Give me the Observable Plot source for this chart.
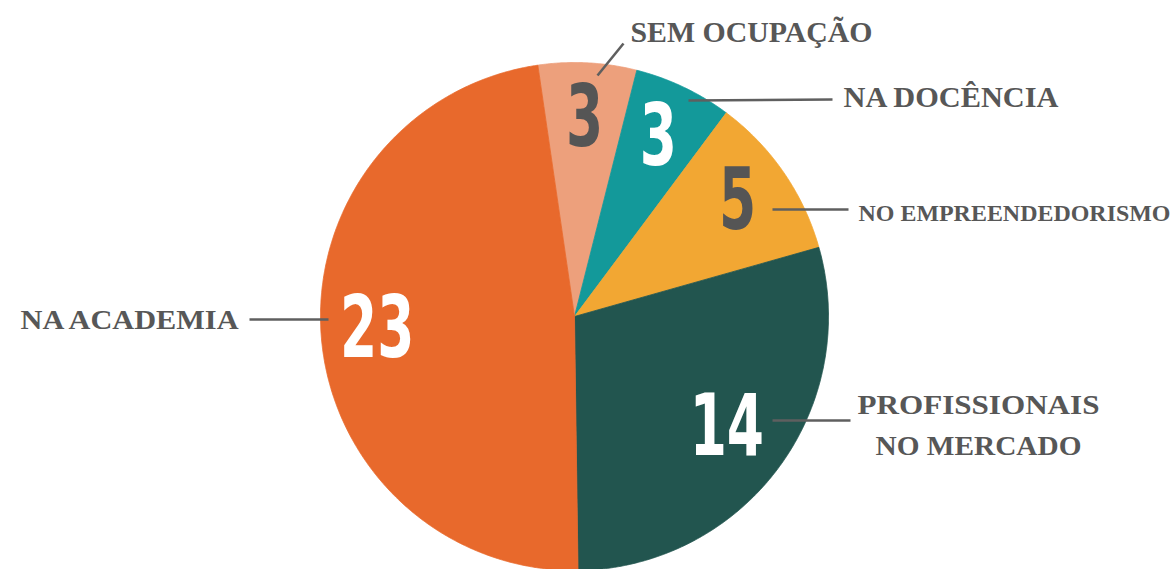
<!DOCTYPE html>
<html><head><meta charset="utf-8">
<script src="https://cdn.jsdelivr.net/npm/d3@7"></script>
<script src="https://cdn.jsdelivr.net/npm/@observablehq/plot@0.6"></script>
<style>
body{margin:0;background:#fff;overflow:hidden;}
#chart svg{display:block;}
</style>
</head><body><div id="chart"></div>
<script>
// ---- data ----
const categories = ["SEM OCUPAÇÃO", "NA DOCÊNCIA", "NO EMPREENDEDORISMO", "PROFISSIONAIS NO MERCADO", "NA ACADEMIA"];
const values = [3, 3, 5, 14, 23];
const labelTexts = ["SEM OCUPAÇÃO", "NA DOCÊNCIA", "NO EMPREENDEDORISMO", "PROFISSIONAIS\nNO MERCADO", "NA ACADEMIA"];
const sliceColors = ["#EDA07C", "#13999A", "#F2A733", "#22554F", "#E8692C"];
const numberColors = ["#555555", "#FFFFFF", "#555555", "#FFFFFF", "#FFFFFF"];

// ---- layout ----
const W = 1173, H = 569;
const cx = 574, cy = 316, R = 254;
const startDeg = -8.3;
const numR = [195, 195, 198, 190, 198];
const labelLayout = [
  {x: 630, y: 28, anchor: "start", size: 28.5, widths: [242], line: [[597, 75], [623, 43]]},
  {x: 843, y: 93, anchor: "start", size: 28.5, widths: [215], line: [[688, 100], [832, 99]]},
  {x: 858, y: 210, anchor: "start", size: 22.5, widths: [312], line: [[772, 209], [848, 209]]},
  {x: 978, y: 421, anchor: "middle", size: 27.5, widths: [242, 206], line: [[772, 420], [850, 420]]},
  {x: 238, y: 315, anchor: "end", size: 27.5, widths: [218], line: [[249, 319], [328, 319]]}
];

const rad = Math.PI / 180;
const pie = d3.pie().sort(null).value(d => d)
  .startAngle(startDeg * rad).endAngle(startDeg * rad + 2 * Math.PI)(values);

const polar = (a, r) => ({x: cx + r * Math.sin(a), y: cy - r * Math.cos(a)});

const sliceMarks = pie.map((p, i) => {
  const pts = [{x: cx, y: cy}];
  const n = Math.max(8, Math.ceil((p.endAngle - p.startAngle) / (0.25 * rad)));
  for (let k = 0; k <= n; k++) {
    const a = p.startAngle + (p.endAngle - p.startAngle) * k / n;
    pts.push(polar(a, R));
  }
  pts.push({x: cx, y: cy});
  return Plot.line(pts, {x: "x", y: "y", fill: sliceColors[i], stroke: sliceColors[i], strokeWidth: 0.8});
});

const numData = pie.map((p, i) => {
  const a = (p.startAngle + p.endAngle) / 2;
  const pt = polar(a, numR[i]);
  return {x: pt.x, y: pt.y - 3, text: String(values[i]), color: numberColors[i]};
});

const linkData = labelLayout.map(l => ({x1: l.line[0][0], y1: l.line[0][1], x2: l.line[1][0], y2: l.line[1][1]}));

const labelMarks = labelLayout.map((l, i) => Plot.text([labelTexts[i]], {
  x: () => l.x, y: () => l.y, text: d => d,
  textAnchor: l.anchor, lineAnchor: "middle", lineHeight: 1.5,
  fontSize: l.size, fontWeight: "bold",
  fontFamily: "'Liberation Serif', 'DejaVu Serif', serif",
  fill: "#575757", className: "pie-label-" + i
}));

const chart = Plot.plot({
  width: W, height: H,
  margin: 0,
  x: {domain: [0, W], range: [0, W], axis: null},
  y: {domain: [0, H], range: [0, H], axis: null},
  color: {type: "identity"},
  style: {background: "#fff"},
  marks: [
    ...sliceMarks,
    Plot.link(linkData, {x1: "x1", y1: "y1", x2: "x2", y2: "y2", stroke: "#5f5f5f", strokeWidth: 2.6}),
    Plot.text(numData, {
      x: "x", y: "y", text: "text", fill: "color",
      fontSize: 86, fontWeight: "bold",
      fontFamily: "'Liberation Sans Narrow', 'DejaVu Sans Condensed', sans-serif",
      lineAnchor: "middle", className: "pie-num"
    }),
    ...labelMarks
  ]
});
document.getElementById("chart").appendChild(chart);

// condensed numerals
document.querySelectorAll(".pie-num text").forEach(t => {
  const w = t.getComputedTextLength();
  t.setAttribute("textLength", (w * 0.69).toFixed(1));
  t.setAttribute("lengthAdjust", "spacingAndGlyphs");
});
// stretch category labels to the reference widths
labelLayout.forEach((l, i) => {
  const t = document.querySelector(".pie-label-" + i + " text");
  if (!t) return;
  const spans = t.querySelectorAll("tspan");
  const parts = spans.length ? Array.from(spans) : [t];
  parts.forEach((el, k) => {
    if (l.widths[k]) {
      el.setAttribute("textLength", l.widths[k]);
      el.setAttribute("lengthAdjust", "spacingAndGlyphs");
    }
  });
});
</script>
</body></html>
